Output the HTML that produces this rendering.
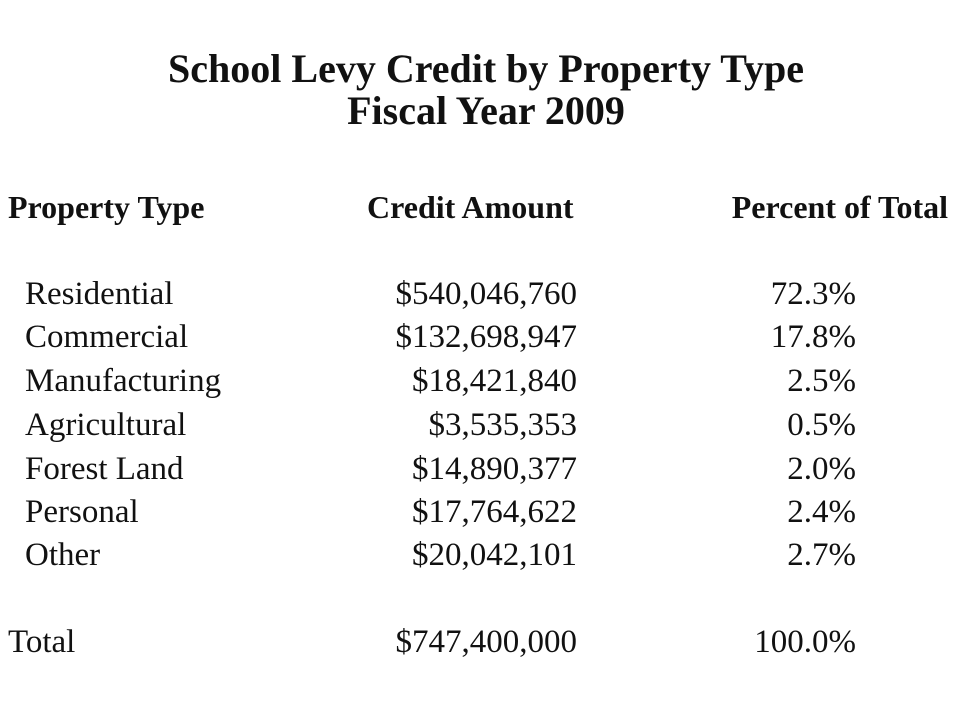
<!DOCTYPE html>
<html><head><meta charset="utf-8"><style>
body{margin:0;width:960px;height:720px;background:#fff;position:relative;overflow:hidden;font-family:"Liberation Serif",serif;color:#111}
.t{position:absolute;white-space:nowrap;line-height:1}
.title{font-size:40px;font-weight:bold;left:0;width:972px;text-align:center}
.h{font-size:32px;font-weight:bold}
.r{font-size:33px}
.amt{right:383px;text-align:right}
.pct{right:104px;text-align:right}
</style></head><body>
<div class="t title" style="top:49px">School Levy Credit by Property Type</div>
<div class="t title" style="top:91px">Fiscal Year 2009</div>
<div class="t h" style="left:8px;top:191px">Property Type</div>
<div class="t h" style="left:367px;top:191px">Credit Amount</div>
<div class="t h" style="right:12px;top:191px">Percent of Total</div>
<div id="rows"></div>
<script>
const labels=["Residential","Commercial","Manufacturing","Agricultural","Forest Land","Personal","Other","Total"];
const amounts=["$540,046,760","$132,698,947","$18,421,840","$3,535,353","$14,890,377","$17,764,622","$20,042,101","$747,400,000"];
const percents=["72.3%","17.8%","2.5%","0.5%","2.0%","2.4%","2.7%","100.0%"];
const baselines=[307,350,394,438,482,525,568,655];
const host=document.getElementById('rows');
labels.forEach((l,i)=>{
  const top=baselines[i]-29;
  const a=document.createElement('div');
  a.className='t r';a.style.left=(i===7?8:25)+'px';a.style.top=top+'px';a.textContent=l;
  
  
  host.appendChild(a);
  const b=document.createElement('div');
  b.className='t r amt';b.style.top=top+'px';b.textContent=amounts[i];
  
  
  host.appendChild(b);
  const c=document.createElement('div');
  c.className='t r pct';c.style.top=top+'px';c.textContent=percents[i];
  
  
  host.appendChild(c);
});
</script>
</body></html>
